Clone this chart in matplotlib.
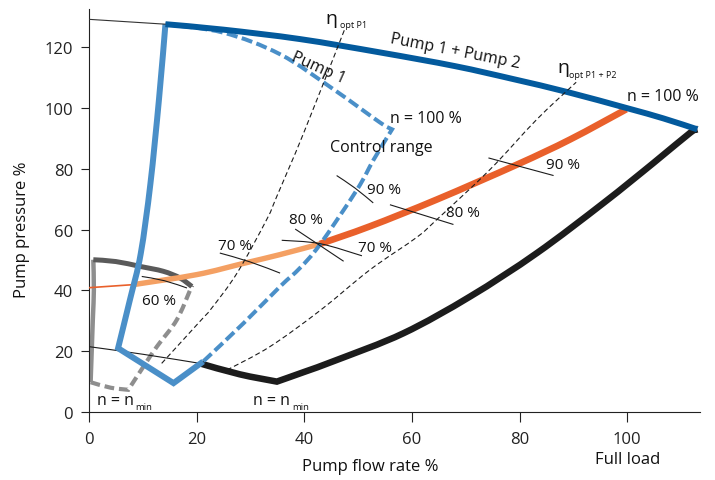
import matplotlib
matplotlib.use('Agg')
import matplotlib.pyplot as plt
import matplotlib.transforms as mtransforms
from matplotlib.path import Path
from matplotlib.patches import PathPatch

plt.rcParams['font.family'] = ['Open Sans', 'DejaVu Sans']
plt.rcParams['lines.scale_dashes'] = False

# ---------------- data ----------------
x_ticks = [0, 20, 40, 60, 80, 100]
y_ticks = [0, 20, 40, 60, 80, 100, 120]

# Pump 1 + Pump 2 characteristic at n = 100 %
p12_ext_x = [0.0, 14.2]
p12_ext_y = [129.2, 127.6]
p12_x = [14.2, 25.0, 39.2, 54.1, 68.0, 78.9, 88.8, 99.9, 106.7, 113.0]
p12_y = [127.6, 125.8, 122.7, 118.3, 113.8, 109.5, 105.3, 100.0, 96.6, 93.0]

# Pump 1 solid boundary (left edge, then n_min)
p1_solid_x = [14.2, 13.0, 11.4, 9.6, 7.6, 5.4, 15.7, 21.2]
p1_solid_y = [127.6, 102.9, 75.0, 52.0, 36.9, 21.0, 9.5, 16.6]
p1_solid_corners = [5, 6]
# Pump 1 dashed: n = 100 % curve and right boundary
p1_dash_x = [14.2, 25.0, 35.5, 45.4, 54.1, 56.3, 52.9, 49.8, 42.9, 39.2, 35.5, 28.7, 21.2]
p1_dash_y = [127.6, 124.8, 117.7, 106.2, 95.2, 93.0, 83.1, 73.2, 55.1, 47.4, 41.3, 29.2, 16.6]
p1_dash_corners = [5]

# Small pump region (grey)
g_top_x = [0.8, 5.0, 9.5, 13.8, 16.9, 19.1]
g_top_y = [50.1, 49.5, 47.9, 46.3, 44.1, 41.3]
g_left_x = [0.8, 0.9, 0.7, 0.3]
g_left_y = [50.1, 40.0, 30.0, 9.8]
g_dash_x = [0.3, 4.0, 7.3, 10.1, 12.6, 16.3, 18.8, 19.1]
g_dash_y = [9.8, 8.0, 7.3, 14.9, 21.5, 30.3, 40.2, 41.3]
g_dash_corners = [2]

# Operating (system) curve
sys_thin_x = [0.0, 8.2]
sys_thin_y = [40.9, 41.9]
sys_light_x = [8.2, 20.0, 28.7, 35.5, 42.9]
sys_light_y = [41.9, 45.2, 48.9, 51.8, 55.3]
sys_dark_x = [42.9, 52.2, 64.6, 79.5, 89.4, 99.8]
sys_dark_y = [55.3, 61.1, 69.9, 81.4, 89.7, 99.6]

# Pump 1 + Pump 2 at n_min and right boundary
nmin_thin_x = [0.0, 10.0, 20.6]
nmin_thin_y = [21.5, 19.0, 16.0]
nmin_x = [20.6, 28.0, 34.9, 40.0, 46.0, 58.4, 70.8, 83.2, 95.6, 104.9, 111.7, 113.0]
nmin_y = [16.0, 12.4, 10.0, 13.2, 17.1, 25.9, 38.0, 52.3, 68.8, 82.0, 91.9, 93.0]
nmin_corners = [2]

# Optimum efficiency lines
opt1_x = [13.5, 20.6, 22.8, 27.5, 33.0, 34.9, 39.9, 47.6]
opt1_y = [16.0, 29.8, 34.2, 45.7, 63.3, 71.0, 91.9, 126.4]
opt12_x = [25.6, 33.6, 43.0, 52.2, 60.9, 64.6, 74.5, 83.2, 90.5]
opt12_y = [13.8, 21.5, 33.5, 46.8, 57.5, 63.3, 79.8, 96.3, 108.5]

# Iso-efficiency ticks
eff_lines = {
    '60a': ([9.8, 14.0, 18.2], [44.6, 43.2, 40.8]),
    '70a': ([24.3, 29.9, 35.5], [52.3, 49.4, 45.7]),
    '80a': ([38.3, 47.3], [60.2, 49.6]),
    '70b': ([35.8, 42.9, 50.7], [56.5, 55.4, 51.4]),
    '90a': ([46.0, 49.4, 52.8], [77.8, 73.7, 68.8]),
    '80b': ([55.9, 67.7], [68.2, 61.7]),
    '90b': ([74.2, 86.3], [83.6, 77.8]),
}
eff_labels = [('60 %', 9.8, 35.5), ('70 %', 23.9, 53.6), ('80 %', 37.2, 62.2),
              ('70 %', 49.9, 53.1), ('90 %', 51.6, 72.0), ('80 %', 66.3, 64.6),
              ('90 %', 84.9, 80.2)]

# ---------------- colours ----------------
DARK_BLUE = '#035a9d'
LIGHT_BLUE = '#4a8fc8'
DARK_ORANGE = '#e9602b'
LIGHT_ORANGE = '#f4a063'
DARK_GREY = '#5a5a5a'
LIGHT_GREY = '#8e8e8e'
BLACK = '#1c1c1c'
TXT = '#111111'


def smooth_path(xs, ys, corners=()):
    """Cubic Bezier path passing through the given points (Catmull-Rom tangents)."""
    pts = list(zip(xs, ys))
    n = len(pts)
    verts = [pts[0]]
    codes = [Path.MOVETO]
    for i in range(n - 1):
        p1, p2 = pts[i], pts[i + 1]
        p0 = pts[i - 1] if (i > 0 and i not in corners) else p1
        p3 = pts[i + 2] if (i + 2 < n and (i + 1) not in corners) else p2
        c1 = (p1[0] + (p2[0] - p0[0]) / 6.0, p1[1] + (p2[1] - p0[1]) / 6.0)
        c2 = (p2[0] - (p3[0] - p1[0]) / 6.0, p2[1] - (p3[1] - p1[1]) / 6.0)
        verts += [c1, c2, p2]
        codes += [Path.CURVE4] * 3
    return Path(verts, codes)


def draw(ax, xs, ys, corners=(), **kw):
    style = dict(fill=False, joinstyle='miter', capstyle='butt')
    style.update(kw)
    ax.add_patch(PathPatch(smooth_path(xs, ys, corners), **style))


fig = plt.figure(figsize=(7.15, 4.81), dpi=100)
ax = fig.add_axes([89 / 715, (481 - 413) / 481, (700 - 89) / 715, (413 - 10) / 481])
ax.set_xlim(0, 113.5)
ax.set_ylim(0, 132.6)

for s in ('top', 'right'):
    ax.spines[s].set_visible(False)
for s in ('left', 'bottom'):
    ax.spines[s].set_linewidth(0.8)
    ax.spines[s].set_color('#222222')

ax.set_xticks(x_ticks)
ax.set_yticks(y_ticks)
ax.tick_params(axis='x', direction='out', length=7, width=0.8, labelsize=12, pad=6.5, colors='#222222')
ax.tick_params(axis='y', direction='out', length=6, width=0.8, labelsize=12, pad=5.5, colors='#222222')

# grey small pump region
draw(ax, g_left_x, g_left_y, edgecolor=LIGHT_GREY, lw=3.2, zorder=2)
draw(ax, g_dash_x, g_dash_y, g_dash_corners, edgecolor=LIGHT_GREY, lw=3.0,
     linestyle=(0, (7, 3.5)), zorder=2)
draw(ax, g_top_x, g_top_y, edgecolor=DARK_GREY, lw=3.6, zorder=2.1)

# system curve
ax.plot(sys_thin_x, sys_thin_y, color=DARK_ORANGE, lw=1.2, zorder=3)
draw(ax, sys_light_x, sys_light_y, edgecolor=LIGHT_ORANGE, lw=3.9, zorder=3)
draw(ax, sys_dark_x, sys_dark_y, edgecolor=DARK_ORANGE, lw=4.8, zorder=3)

# n_min curve
draw(ax, nmin_thin_x, nmin_thin_y, edgecolor=BLACK, lw=0.8, zorder=3)
draw(ax, nmin_x, nmin_y, nmin_corners, edgecolor=BLACK, lw=4.7, zorder=3)

# pump 1
draw(ax, p1_dash_x, p1_dash_y, p1_dash_corners, edgecolor=LIGHT_BLUE, lw=2.9,
     linestyle=(0, (8, 3.2)), zorder=4)
draw(ax, p1_solid_x, p1_solid_y, p1_solid_corners, edgecolor=LIGHT_BLUE, lw=4.3, zorder=4.2)

# pump 1 + pump 2
ax.plot(p12_ext_x, p12_ext_y, color='#333333', lw=0.8, zorder=5)
draw(ax, p12_x, p12_y, edgecolor=DARK_BLUE, lw=4.3, zorder=5)

# optimum lines
draw(ax, opt1_x, opt1_y, edgecolor=BLACK, lw=0.8, linestyle=(0, (3.6, 2.2)), zorder=6)
draw(ax, opt12_x, opt12_y, edgecolor=BLACK, lw=0.8, linestyle=(0, (3.6, 2.2)), zorder=6)

for key, (xs, ys) in eff_lines.items():
    draw(ax, xs, ys, edgecolor=BLACK, lw=0.8, zorder=6)

for t, x, y in eff_labels:
    ax.text(x, y, t, fontsize=11, ha='left', va='baseline', color=TXT, zorder=7)

# text labels
ax.text(68.0, 118.8, 'Pump 1 + Pump 2', fontsize=11.5, rotation=-11, ha='center', va='center',
        rotation_mode='anchor', color=TXT, zorder=7)
ax.text(42.6, 113.3, 'Pump 1', fontsize=11.5, rotation=-24, ha='center', va='center',
        rotation_mode='anchor', color=TXT, zorder=7)
ax.text(100.0, 102.5, 'n = 100 %', fontsize=11.5, ha='left', va='baseline', color=TXT, zorder=7)
ax.text(55.9, 95.4, 'n = 100 %', fontsize=11.5, ha='left', va='baseline', color=TXT, zorder=7)
ax.text(44.8, 86.0, 'Control range', fontsize=11.5, ha='left', va='baseline', color=TXT, zorder=7)

ax.text(44.0, 128.1, 'η', fontsize=14, ha='left', va='baseline', color=TXT, zorder=7)
ax.text(46.6, 126.6, 'opt P1', fontsize=6.5, ha='left', va='baseline', color=TXT, zorder=7)
ax.text(87.0, 111.8, 'η', fontsize=14, ha='left', va='baseline', color=TXT, zorder=7)
ax.text(89.2, 110.2, 'opt P1 + P2', fontsize=6.5, ha='left', va='baseline', color=TXT, zorder=7)

ax.text(1.4, 2.6, 'n = n', fontsize=11.5, ha='left', va='baseline', color=TXT, zorder=7)
ax.text(8.6, 1.0, 'min', fontsize=6.8, ha='left', va='baseline', color=TXT, zorder=7)
ax.text(30.5, 2.6, 'n = n', fontsize=11.5, ha='left', va='baseline', color=TXT, zorder=7)
ax.text(37.7, 1.0, 'min', fontsize=6.8, ha='left', va='baseline', color=TXT, zorder=7)

# axis labels
trans = mtransforms.blended_transform_factory(ax.transData, ax.transAxes)
ax.text(100, (413 - 460) / 403, 'Full load', transform=trans, fontsize=12, ha='center', va='center', color=TXT)
ax.text((370 - 89) / 611, (413 - 467) / 403, 'Pump flow rate %', transform=ax.transAxes,
        fontsize=12, ha='center', va='center', color=TXT)
ax.text((22 - 89) / 611, (413 - 230) / 403, 'Pump pressure %', transform=ax.transAxes,
        fontsize=12, ha='center', va='center', rotation=90, color=TXT)

fig.savefig('out.png', dpi=100)
